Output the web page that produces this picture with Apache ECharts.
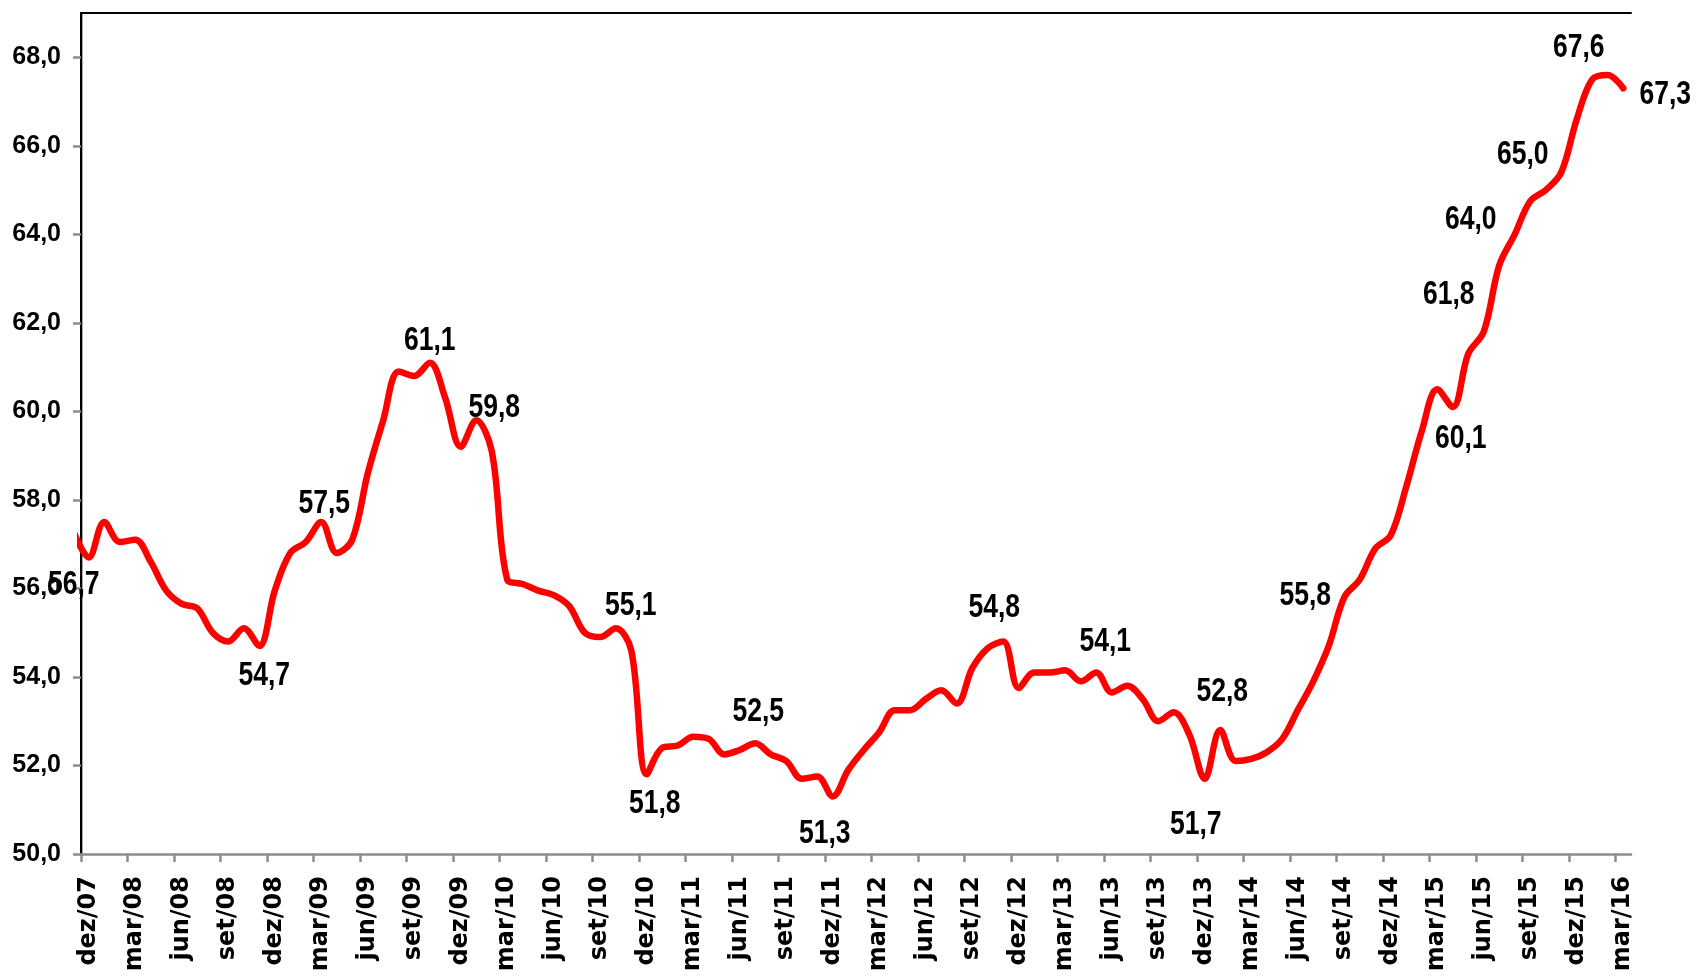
<!DOCTYPE html>
<html>
<head>
<meta charset="utf-8">
<script src="https://cdn.jsdelivr.net/npm/echarts@6/dist/echarts.min.js"></script>
<style>
  html, body { margin: 0; padding: 0; background: #fff; }
  #chart { width: 1696px; height: 979px; }
</style>
</head>
<body>
<div id="chart"></div>
<script>
// monthly series, nov/07 is only there so the curve enters the plot at the axis
const months = [
  'nov/07', 'dez/07',
  'jan/08', 'fev/08', 'mar/08', 'abr/08', 'mai/08', 'jun/08', 'jul/08', 'ago/08', 'set/08', 'out/08', 'nov/08', 'dez/08',
  'jan/09', 'fev/09', 'mar/09', 'abr/09', 'mai/09', 'jun/09', 'jul/09', 'ago/09', 'set/09', 'out/09', 'nov/09', 'dez/09',
  'jan/10', 'fev/10', 'mar/10', 'abr/10', 'mai/10', 'jun/10', 'jul/10', 'ago/10', 'set/10', 'out/10', 'nov/10', 'dez/10',
  'jan/11', 'fev/11', 'mar/11', 'abr/11', 'mai/11', 'jun/11', 'jul/11', 'ago/11', 'set/11', 'out/11', 'nov/11', 'dez/11',
  'jan/12', 'fev/12', 'mar/12', 'abr/12', 'mai/12', 'jun/12', 'jul/12', 'ago/12', 'set/12', 'out/12', 'nov/12', 'dez/12',
  'jan/13', 'fev/13', 'mar/13', 'abr/13', 'mai/13', 'jun/13', 'jul/13', 'ago/13', 'set/13', 'out/13', 'nov/13', 'dez/13',
  'jan/14', 'fev/14', 'mar/14', 'abr/14', 'mai/14', 'jun/14', 'jul/14', 'ago/14', 'set/14', 'out/14', 'nov/14', 'dez/14',
  'jan/15', 'fev/15', 'mar/15', 'abr/15', 'mai/15', 'jun/15', 'jul/15', 'ago/15', 'set/15', 'out/15', 'nov/15', 'dez/15',
  'jan/16', 'fev/16', 'mar/16'
]

const values = [
  57.3, 56.7,
  57.5, 57.05, 57.1, 56.6, 55.95, 55.65, 55.55, 55.0, 54.8, 55.1, 54.7, 55.95,
  56.8, 57.05, 57.5, 56.8, 57.1, 58.6, 59.8, 60.9, 60.8, 61.1, 60.3, 59.2,
  59.8, 59.1, 56.2, 56.1, 55.95, 55.85, 55.6, 55.0, 54.9, 55.1, 54.6, 51.8,
  52.4, 52.45, 52.65, 52.6, 52.25, 52.35, 52.5, 52.25, 52.1, 51.7, 51.75, 51.3,
  51.9, 52.35, 52.75, 53.25, 53.25, 53.5, 53.7, 53.4, 54.2, 54.65, 54.8, 53.75,
  54.1, 54.1, 54.15, 53.9, 54.1, 53.65, 53.8, 53.5, 53.0, 53.2, 52.7, 51.7,
  52.8, 52.1, 52.15, 52.3, 52.6, 53.25, 53.9, 54.7, 55.8, 56.2, 56.9, 57.2,
  58.3, 59.55, 60.5, 60.1, 61.3, 61.8, 63.3, 64.0, 64.75, 65.0, 65.4, 66.6,
  67.5, 67.6, 67.3
]

const yTicks = [50, 52, 54, 56, 58, 60, 62, 64, 66, 68]

// months that carry a value label, with the label offset in px
const labelOffsets = {
  'dez/07': [-15, 27], 'nov/08': [5, 30], 'mar/09': [3, -18], 'out/09': [0, -22],
  'jan/10': [18, -13], 'out/10': [15, -23], 'dez/10': [8, 29], 'jul/11': [3, -32],
  'dez/11': [-8, 37], 'nov/12': [-9, -34], 'mai/13': [9, -31], 'dez/13': [-9, 46],
  'jan/14': [2, -38], 'set/14': [-39, -2], 'abr/15': [8, 32], 'jun/15': [-35, -37],
  'ago/15': [-44, -15], 'out/15': [-23, -35], 'fev/16': [-29, -27], 'mar/16': [42, 6]
}

// x axis runs in months from the start of dez/07; each point sits mid-month
const xTicks = months.map((m, i) => i - 1).filter(t => t >= 0 && t % 3 === 0)

const fmt = v => v.toFixed(1).replace('.', ',')

const lineData = values.map((v, i) => [i - 0.5, v])
const labelMonths = months.filter(m => labelOffsets[m])
const labelData = labelMonths.map(m => {
  const i = months.indexOf(m)
  return [i - 0.5, values[i]]
})

const chart = echarts.init(document.getElementById('chart'))

const option = {
  animation: false,
  backgroundColor: '#fff',
  grid: { left: 81, right: 65, top: 13, bottom: 125 },
  xAxis: [
    {
      type: 'value',
      min: 0,
      max: 100,
      axisLine: { lineStyle: { color: '#8c8c8c', width: 2.5 } },
      axisTick: { customValues: xTicks, length: 8, lineStyle: { color: '#8c8c8c', width: 2.5 } },
      axisLabel: {
        customValues: xTicks.map(t => t + 0.5),
        rotate: 90,
        margin: 22,
        formatter: v => months[Math.round(v + 0.5)],
        fontFamily: 'DejaVu Sans',
        fontWeight: 'bold',
        fontSize: 24,
        color: '#000'
      },
      splitLine: { show: false }
    },
    {
      type: 'value',
      position: 'top',
      min: 0,
      max: 100,
      axisLine: { lineStyle: { color: '#000', width: 2 } },
      axisTick: { show: false },
      axisLabel: { show: false },
      splitLine: { show: false }
    }
  ],
  yAxis: [
    {
      type: 'value',
      min: 50,
      max: 69,
      axisLine: { show: true, lineStyle: { color: '#8c8c8c', width: 2.5 } },
      axisTick: { show: true, customValues: yTicks, length: 8, lineStyle: { color: '#8c8c8c', width: 2.5 } },
      axisLabel: {
        customValues: yTicks,
        margin: 20,
        formatter: fmt,
        fontFamily: 'Liberation Sans',
        fontWeight: 'bold',
        fontSize: 25,
        color: '#000'
      },
      splitLine: { show: false }
    },
    {
      type: 'value',
      position: 'right',
      min: 50,
      max: 69,
      axisLine: { show: true, lineStyle: { color: '#000', width: 2 } },
      axisTick: { show: false },
      axisLabel: { show: false },
      splitLine: { show: false }
    }
  ],
  series: [
    {
      type: 'line',
      data: lineData,
      smooth: 0.35,
      showSymbol: false,
      clip: true,
      lineStyle: { color: '#ff0000', width: 6.5, cap: 'round', join: 'round' },
      emphasis: { disabled: true },
      z: 3
    },
    {
      // value labels, condensed like the original
      type: 'custom',
      data: labelData,
      encode: { x: 0, y: 1 },
      clip: false,
      silent: true,
      z: 4,
      renderItem: (params, api) => {
        const p = api.coord([api.value(0), api.value(1)])
        const off = labelOffsets[labelMonths[params.dataIndex]]
        return {
          type: 'text',
          x: p[0] + off[0],
          y: p[1] + off[1],
          scaleX: 0.78,
          style: {
            text: fmt(api.value(1)),
            font: 'bold 34px "Liberation Sans"',
            fill: '#000',
            align: 'center',
            verticalAlign: 'middle'
          }
        }
      }
    }
  ]
}

chart.setOption(option)
</script>
</body>
</html>
